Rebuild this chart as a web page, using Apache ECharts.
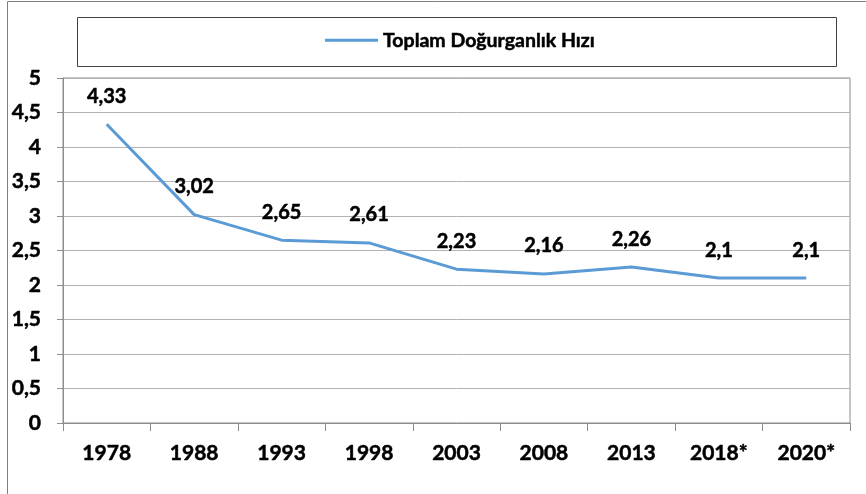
<!DOCTYPE html>
<html>
<head>
<meta charset="utf-8">
<script src="https://cdn.jsdelivr.net/npm/echarts@6/dist/echarts.min.js"></script>
<style>
  html, body { margin: 0; padding: 0; background: #fff; }
  #main { width: 866px; height: 494px; }
</style>
</head>
<body>
<div id="main"></div>
<script>
// veriler
const years = ["1978", "1988", "1993", "1998", "2003", "2008", "2013", "2018*", "2020*"];
const fertility = [4.33, 3.02, 2.65, 2.61, 2.23, 2.16, 2.26, 2.1, 2.1];
const seriesName = "Toplam Doğurganlık Hızı";

const font = "Lato, 'Open Sans', sans-serif";
const comma = (v) => String(v).replace(".", ",");
// Lato bold biraz ince kaliyor, hafif kontur ile kalinlastir
const boldText = {
  color: "#000",
  fontFamily: font,
  fontWeight: "bold",
  textBorderColor: "#000",
  textBorderWidth: 0.5
};

const myChart = echarts.init(document.getElementById("main"));

const option = {
  animation: false,
  backgroundColor: "#fff",
  graphic: [
    {
      type: "rect",
      shape: { x: 7.5, y: 1.5, width: 900, height: 600 },
      style: { fill: "none", stroke: "#7f7f7f", lineWidth: 1 },
      silent: true
    },
    {
      type: "rect",
      shape: { x: 77.5, y: 17.5, width: 759, height: 49 },
      style: { fill: "none", stroke: "#404040", lineWidth: 1 },
      silent: true
    }
  ],
  legend: {
    data: [{ name: seriesName, icon: "rect" }],
    left: 325,
    top: 30,
    padding: 0,
    itemWidth: 53,
    itemHeight: 3,
    itemGap: 5,
    textStyle: Object.assign({}, boldText, { fontSize: 19.5, padding: [0, 0, 0, 0] })
  },
  grid: {
    left: 63,
    top: 78,
    right: 16,
    bottom: 71,
    show: true,
    borderColor: "#8c8c8c",
    borderWidth: 1
  },
  xAxis: {
    type: "category",
    data: years,
    boundaryGap: true,
    axisLine: { lineStyle: { color: "#8c8c8c" } },
    axisTick: { show: true, length: 8, lineStyle: { color: "#8c8c8c" } },
    axisLabel: Object.assign({}, boldText, { margin: 20, fontSize: 21 })
  },
  yAxis: {
    type: "value",
    min: 0,
    max: 5,
    interval: 0.5,
    axisLine: { show: true, lineStyle: { color: "#8c8c8c" } },
    axisTick: { show: true, length: 6, lineStyle: { color: "#8c8c8c" } },
    splitLine: { lineStyle: { color: "#b3b3b3" } },
    axisLabel: Object.assign({}, boldText, { margin: 22, fontSize: 21, formatter: comma })
  },
  series: [
    {
      name: seriesName,
      type: "line",
      data: fertility,
      showSymbol: true,
      symbol: "circle",
      symbolSize: 0,
      color: "#5b9bd5",
      lineStyle: { width: 3, color: "#5b9bd5" },
      label: Object.assign({}, boldText, {
        show: true,
        position: "top",
        distance: 18,
        fontSize: 20,
        formatter: (p) => comma(p.value)
      })
    }
  ]
};

myChart.setOption(option);
</script>
</body>
</html>
